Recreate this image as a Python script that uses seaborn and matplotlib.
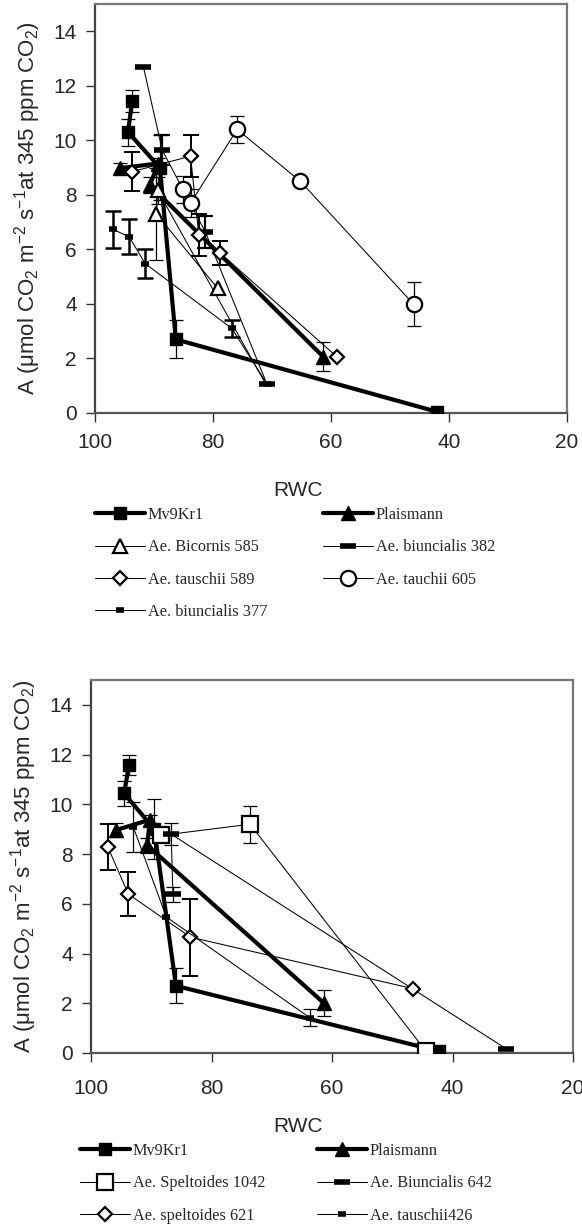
import matplotlib
matplotlib.use("Agg")
import matplotlib.pyplot as plt
import seaborn as sns
import numpy as np

# ---------------- data (top panel) ----------------
t_names = ["Mv9Kr1", "Plaismann", "Ae. Bicornis 585", "Ae. biuncialis 382",
           "Ae. tauschii 589", "Ae. tauchii 605", "Ae. biuncialis 377"]
t_mv_x = [93.7, 94.4, 89.0, 86.3, 42.1]
t_mv_y = [11.45, 10.3, 9.0, 2.7, 0.05]
t_mv_e = [0.4, 0.5, 1.2, 0.7, 0.0]
t_pl_x = [95.8, 89.3, 90.7, 61.3]
t_pl_y = [8.98, 9.15, 8.36, 2.06]
t_pl_e = [0.2, 0.2, 0.3, 0.53]
t_bi585_x = [79.2, 89.6, 89.4, 70.9]
t_bi585_y = [4.57, 7.3, 8.17, 1.0]
t_bi585_e = [0.0, 1.7, 0.5, 0.0]
t_b382_x = [91.8, 88.6, 81.3, 70.9]
t_b382_y = [12.7, 9.64, 6.64, 1.08]
t_b382_e = [0.0, 0.55, 0.6, 0.0]
t_t589_x = [93.7, 83.8, 82.4, 78.8, 59.0]
t_t589_y = [8.85, 9.42, 6.52, 5.87, 2.06]
t_t589_e = [0.72, 0.78, 0.77, 0.43, 0.0]
t_t605_x = [85.0, 83.8, 75.9, 65.2, 46.0]
t_t605_y = [8.2, 7.7, 10.4, 8.5, 3.99]
t_t605_e = [0.5, 0.5, 0.5, 0.0, 0.8]
t_b377_x = [97.0, 94.2, 91.5, 76.8, 70.9]
t_b377_y = [6.74, 6.46, 5.48, 3.1, 1.08]
t_b377_e = [0.68, 0.64, 0.53, 0.3, 0.0]

# ---------------- data (bottom panel) ----------------
b_names = ["Mv9Kr1", "Plaismann", "Ae. Speltoides 1042", "Ae. Biuncialis 642",
           "Ae. speltoides 621", "Ae. tauschii426"]
b_mv_x = [93.7, 94.5, 89.5, 85.9, 42.2]
b_mv_y = [11.57, 10.44, 9.0, 2.7, 0.07]
b_mv_e = [0.4, 0.5, 1.2, 0.7, 0.0]
b_pl_x = [95.8, 90.2, 90.7, 61.4]
b_pl_y = [8.97, 9.38, 8.36, 2.02]
b_pl_e = [0.28, 0.2, 0.3, 0.53]
b_s1042_x = [88.4, 73.6, 44.4]
b_s1042_y = [8.75, 9.2, 0.07]
b_s1042_e = [0.0, 0.75, 0.0]
b_b642_x = [86.4, 86.7, 31.1]
b_b642_y = [6.38, 8.8, 0.17]
b_b642_e = [0.3, 0.45, 0.0]
b_s621_x = [97.2, 93.8, 83.5, 46.6]
b_s621_y = [8.28, 6.39, 4.66, 2.59]
b_s621_e = [0.93, 0.87, 1.55, 0.0]
b_t426_x = [93.0, 87.5, 63.7]
b_t426_y = [9.1, 5.47, 1.42]
b_t426_e = [1.0, 0.0, 0.33]

x_ticks = [100, 80, 60, 40, 20]
y_ticks = [0, 2, 4, 6, 8, 10, 12, 14]

sns.set_theme(style="white")
plt.rcParams["font.family"] = ["Liberation Sans", "DejaVu Sans"]
plt.rcParams["mathtext.fontset"] = "custom"
plt.rcParams["mathtext.rm"] = "Liberation Sans"
plt.rcParams["mathtext.it"] = "Liberation Sans:italic"
plt.rcParams["mathtext.bf"] = "Liberation Sans:bold"

W, H = 582, 1229
fig = plt.figure(figsize=(W / 100, H / 100), dpi=100)

def px_axes(l, r, t, b):
    return fig.add_axes([l / W, 1 - b / H, (r - l) / W, (b - t) / H])

ax1 = px_axes(95, 567, 4, 413)
ax2 = px_axes(91, 573, 680, 1053)

def series(ax, x, y, e, label, marker, ms, mfc, mew, lw, markevery=None,
           elw=0.9, cap=5.0):
    kw = dict(x=x, y=y, sort=False, estimator=None, ax=ax, color="black",
              linewidth=lw, marker=marker, markersize=ms, markerfacecolor=mfc,
              markeredgecolor="black", markeredgewidth=mew, label=label,
              zorder=3)
    if markevery is not None:
        kw["markevery"] = markevery
    sns.lineplot(**kw)
    xe = [a for a, s in zip(x, e) if s > 0]
    ye = [b for b, s in zip(y, e) if s > 0]
    ee = [s for s in e if s > 0]
    if ee:
        ax.errorbar(xe, ye, yerr=ee, fmt="none", ecolor="black",
                    elinewidth=elw, capsize=cap, capthick=elw, zorder=2)

# top panel
series(ax1, t_mv_x, t_mv_y, t_mv_e, t_names[0], "s", 8, "black", 1, 3.0)
series(ax1, t_pl_x, t_pl_y, t_pl_e, t_names[1], "^", 10, "black", 1, 3.0)
series(ax1, t_bi585_x, t_bi585_y, t_bi585_e, t_names[2], "^", 10, "white", 1.6, 0.75,
       markevery=[0, 1, 2])
series(ax1, t_b382_x, t_b382_y, t_b382_e, t_names[3], "_", 12, "black", 4, 0.75,
       elw=1.6, cap=6)
series(ax1, t_t589_x, t_t589_y, t_t589_e, t_names[4], "D", 7, "white", 1.6, 0.75,
       elw=1.4, cap=6)
series(ax1, t_t605_x, t_t605_y, t_t605_e, t_names[5], "o", 11, "white", 1.6, 0.75)
series(ax1, t_b377_x, t_b377_y, t_b377_e, t_names[6], "_", 6, "black", 4, 0.75,
       elw=1.8, cap=6)

# bottom panel
series(ax2, b_mv_x, b_mv_y, b_mv_e, b_names[0], "s", 8, "black", 1, 3.0)
series(ax2, b_pl_x, b_pl_y, b_pl_e, b_names[1], "^", 10, "black", 1, 3.0)
series(ax2, b_s1042_x, b_s1042_y, b_s1042_e, b_names[2], "s", 11, "white", 1.6, 0.75)
series(ax2, b_b642_x, b_b642_y, b_b642_e, b_names[3], "_", 12, "black", 4, 0.75)
series(ax2, b_s621_x, b_s621_y, b_s621_e, b_names[4], "D", 7, "white", 1.6, 0.75,
       elw=1.4, cap=6)
series(ax2, b_t426_x, b_t426_y, b_t426_e, b_names[5], "_", 6, "black", 4, 0.75)

ylab = r"A ($\mathregular{\mu}$mol CO$_2$ m$^{-2}$ s$^{-1}$at 345 ppm CO$_2$)"
for ax, xlab_y, ylab_x, xpad in ((ax1, -0.19, -0.142, 8), (ax2, -0.196, -0.139, 12)):
    ax.set_xlim(100, 20)
    ax.set_ylim(0, 15)
    ax.set_xticks(x_ticks)
    ax.set_yticks(y_ticks)
    ax.set_xticklabels([str(v) for v in x_ticks])
    ax.set_yticklabels([str(v) for v in y_ticks])
    ax.tick_params(axis="x", direction="out", length=6.5, width=1, color="#333333",
                   labelsize=15, pad=xpad, bottom=True)
    ax.tick_params(axis="y", direction="out", length=6.5, width=1, color="#333333",
                   labelsize=15, pad=6.5, left=True)
    for s in ax.spines.values():
        s.set_color("#777777")
        s.set_linewidth(1.6)
    ax.spines["left"].set_color("#444444")
    ax.spines["bottom"].set_color("#555555")
    ax.set_xlabel("RWC", fontsize=15)
    ax.xaxis.label.set_va("center")
    ax.xaxis.set_label_coords(0.43, xlab_y)
    ax.set_ylabel(ylab, fontsize=16)
    ax.yaxis.label.set_va("center")
    ax.yaxis.set_label_coords(ylab_x, 0.5)
    ax.grid(False)
    if ax.get_legend() is not None:
        ax.get_legend().remove()

leg_font = {"family": "Liberation Serif", "size": 11.7}

def make_legend(ax, idxs, x_px, y_px):
    h, l = ax.get_legend_handles_labels()
    lg = fig.legend([h[i] for i in idxs], [l[i] for i in idxs], loc="upper left",
                    bbox_to_anchor=(x_px / W, 1 - y_px / H), frameon=False,
                    prop=leg_font, numpoints=1, handlelength=3.1,
                    handletextpad=0.15, labelspacing=1.0, borderpad=0,
                    borderaxespad=0)
    return lg

make_legend(ax1, [0, 2, 4, 6], 95, 507)
make_legend(ax1, [1, 3, 5], 323, 507)
make_legend(ax2, [0, 2, 4], 80, 1143)
make_legend(ax2, [1, 3, 5], 317, 1143)

fig.savefig("out.png", dpi=100)
